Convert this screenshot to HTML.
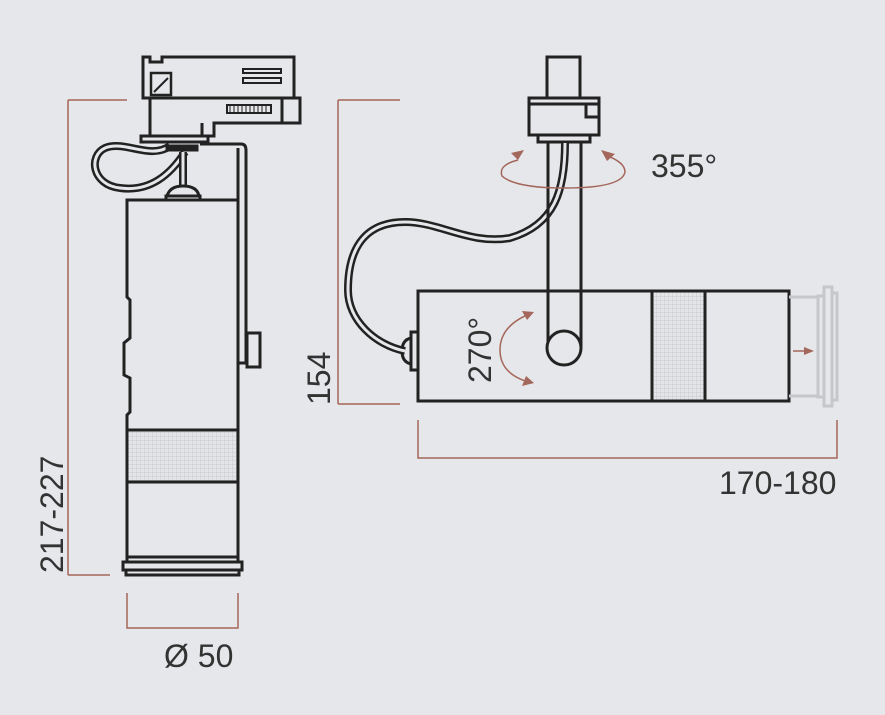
<!DOCTYPE html>
<html><head><meta charset="utf-8"><style>
html,body{margin:0;padding:0;background:#e6e7ea;}
svg{display:block;}
text{font-family:"Liberation Sans",sans-serif;fill:#333;font-size:32px;}
</style></head><body>
<svg width="885" height="715" viewBox="0 0 885 715" xmlns="http://www.w3.org/2000/svg">
<defs>
<pattern id="g" width="4" height="4" patternUnits="userSpaceOnUse">
<rect width="4" height="4" fill="#e4e5e8"/>
<path d="M0 0H4M0 0V4" stroke="#c8c9cd" stroke-width="1"/>
</pattern>
<marker id="ah" markerWidth="10" markerHeight="8" refX="8" refY="4" orient="auto" markerUnits="userSpaceOnUse">
<path d="M0 0L10 4L0 8Z" fill="#a4675b"/>
</marker>
</defs>
<g fill="none" stroke="#a4675b" stroke-width="1.5">
<path d="M68 100V575M68 100H127M68 575H110"/>
<path d="M127 593V628H238V593"/>
<path d="M338 100V404M338 100H400M338 404H400"/>
<path d="M418 420V458H837V420"/>
</g>
<text transform="translate(63 573) rotate(-90)">217-227</text>
<text x="164" y="667">Ø 50</text>
<text transform="translate(330 405) rotate(-90)">154</text>
<text x="719" y="494">170-180</text>
<text x="651" y="177">355°</text>
<text transform="translate(491 383) rotate(-90)">270°</text>

<g fill="none" stroke="#222" stroke-width="3">
<path d="M143 57H150V62H162V57H294V98H143Z"/>
<path d="M143 98H300V123H214V136H202V123"/>
<path d="M282 98V123"/>
<path d="M150 98V136"/>
<rect x="141" y="136" width="67" height="6"/>
<rect x="151" y="73" width="20" height="22" stroke-width="2.5"/>
<path d="M154 92L168 78" stroke-width="2"/>
<rect x="243" y="69" width="38" height="4" stroke-width="2"/>
<rect x="243" y="78" width="38" height="5" stroke-width="2"/>
<rect x="227" y="105" width="44" height="8" stroke-width="2"/>
<path d="M230 105V113M234 105V113M238 105V113M242 105V113M246 105V113M250 105V113M254 105V113M258 105V113M262 105V113M266 105V113" stroke-width="1"/>
<path d="M200 144H241Q246 144 246 150V363H238V148"/>
<rect x="247" y="333" width="13" height="34"/>
<path d="M170 146C150 160 125 140 105 148C88 156 92 185 120 188C150 192 170 175 185 152" stroke-width="8"/>
<path d="M170 146C150 160 125 140 105 148C88 156 92 185 120 188C150 192 170 175 185 152" stroke="#e6e7ea" stroke-width="3"/>
<path d="M183 152V185" stroke-width="8"/>
<path d="M183 152V185" stroke="#e6e7ea" stroke-width="3"/>
<path d="M167 196Q170 186 183 186Q197 186 199 196Z" fill="#e6e7ea"/>
<rect x="166" y="196" width="34" height="4"/>
<rect x="167" y="146" width="30" height="4" fill="#222"/>
<rect x="127" y="430" width="111" height="52" fill="url(#g)" stroke="none"/>
<path d="M238 200H127V297L130 300V338L124 343V375L130 378V412L127 415V557H238Z"/>
<path d="M127 430H238M127 482H238"/>
<rect x="123" y="562" width="119" height="8"/>
<rect x="126" y="570" width="113" height="5"/>
<path d="M127 557V562M238 557V562"/>

<path d="M547 98V57H580V98"/>
<rect x="529" y="98" width="70" height="37"/>
<path d="M529 104H599"/>
<rect x="586" y="104" width="13" height="13"/>
<rect x="538" y="135" width="52" height="7"/>
<rect x="652" y="291" width="53" height="110" fill="url(#g)" stroke="none"/>
<rect x="418" y="291" width="371" height="110"/>
<path d="M652 291V401M705 291V401"/>
<rect x="411" y="332" width="7" height="38"/>
<path d="M411 338Q402 340 402 351Q402 362 411 364"/>
<path d="M565 143C565 190 555 225 510 238C470 245 440 222 405 222C360 222 348 255 348 290C348 320 375 345 405 351" stroke-width="8"/>
<path d="M565 143C565 190 555 225 510 238C470 245 440 222 405 222C360 222 348 255 348 290C348 320 375 345 405 351" stroke="#e6e7ea" stroke-width="3"/>
<path d="M548 142V347M581 142V347"/>
<circle cx="564" cy="348" r="17" fill="#e6e7ea"/>
</g>
<g fill="none" stroke="#c6c7cb" stroke-width="3">
<path d="M789 297H818M789 396H818"/>
<rect x="818" y="296" width="6" height="101"/>
<rect x="824" y="287" width="8" height="119"/>
<rect x="832" y="293" width="5" height="107"/>
</g>
<g fill="none" stroke="#a4675b" stroke-width="1.5">
<path d="M793 351H812" marker-end="url(#ah)"/>
<path d="M532 313Q500 325 500 350Q500 375 532 383"/>
<path d="M518 160Q498 165 502 176Q515 188 565 188Q622 188 625 172Q625 162 605 155"/>
</g>
<g fill="#a4675b">
<path d="M534 312L522 311L527 320Z"/>
<path d="M534 383L522 386L526 376Z"/>
<path d="M524 150L511 153L518 160Z"/>
<path d="M601 150L615 154L607 161Z"/>
</g>
</svg>
</body></html>
